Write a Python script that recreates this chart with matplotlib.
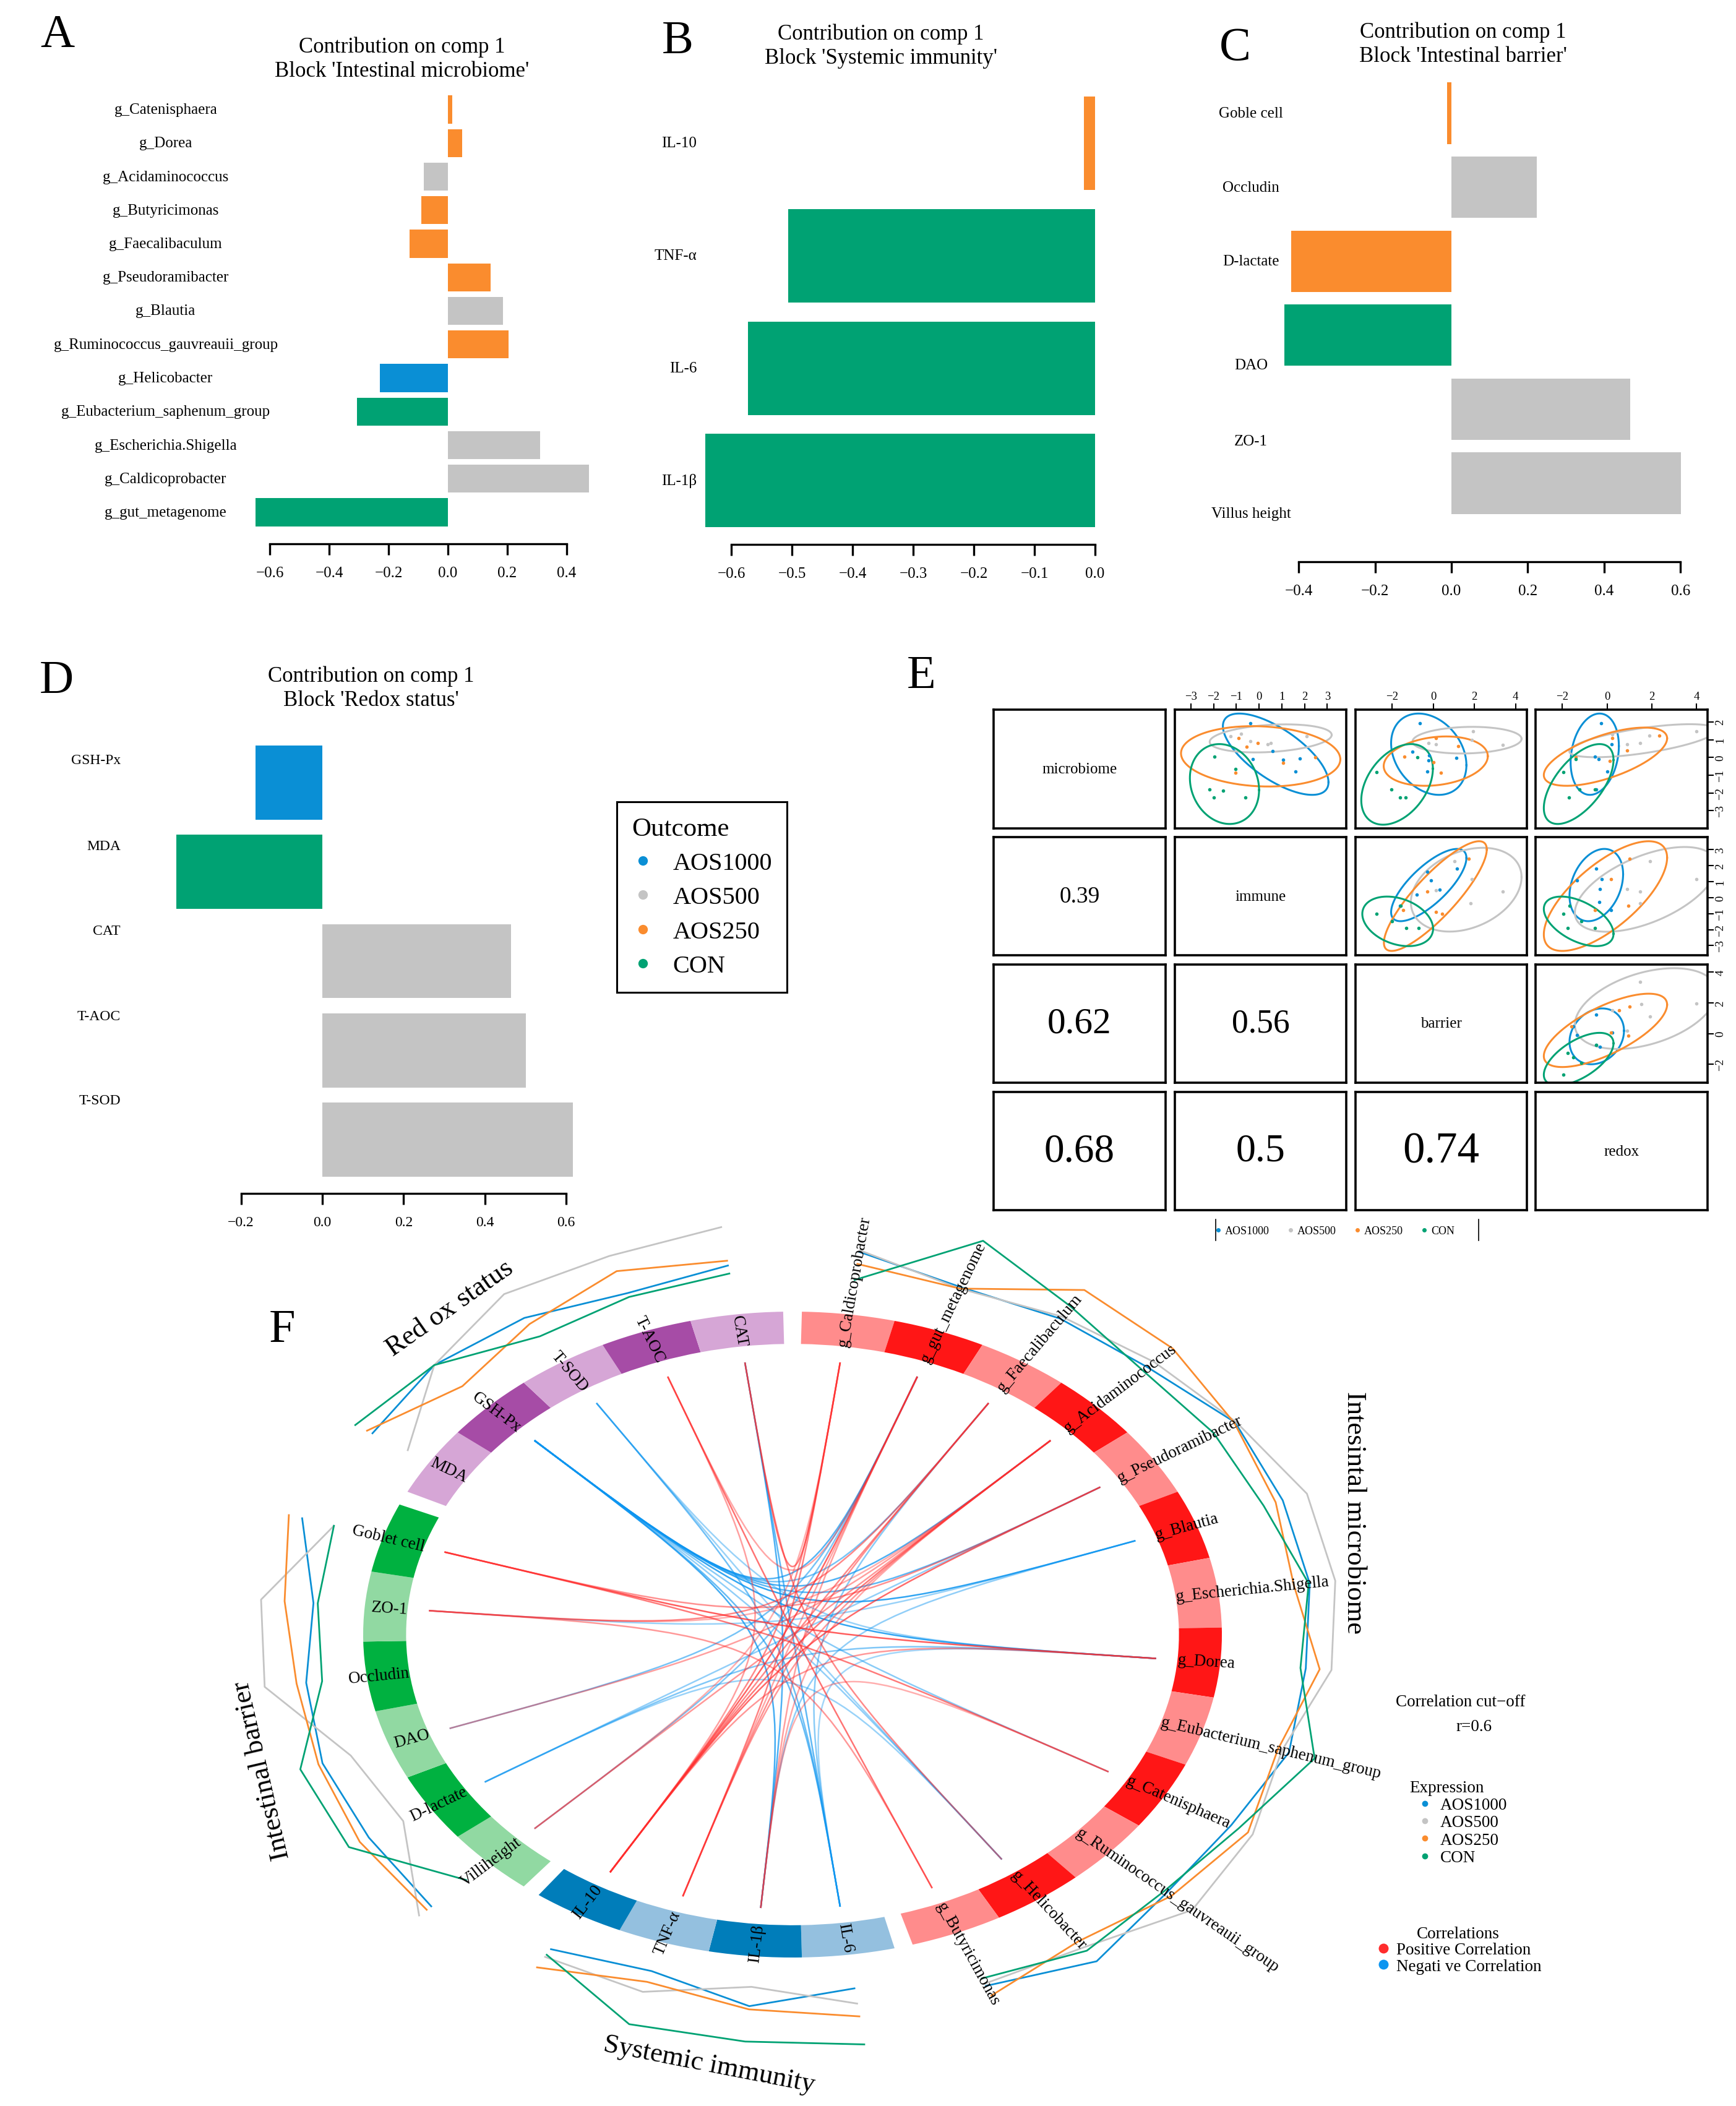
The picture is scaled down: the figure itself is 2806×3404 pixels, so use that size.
#!/usr/bin/env python3

import matplotlib

matplotlib.use("Agg")
import matplotlib.pyplot as plt
import matplotlib.transforms as mtransforms
import numpy as np
from matplotlib.lines import Line2D
from matplotlib.patches import PathPatch, Wedge
from matplotlib.path import Path

W, H = 2806, 3405
plt.rcParams["font.family"] = ["Liberation Serif", "DejaVu Serif"]

GROUPS = ["AOS1000", "AOS500", "AOS250", "CON"]
COLORS = {"AOS1000": "#0A8FD5", "AOS500": "#C4C4C4", "AOS250": "#FA8C2E", "CON": "#00A273"}

# ---- A-D: loadings on component 1, sorted by absolute value ----
a_names = ["g_Catenisphaera", "g_Dorea", "g_Acidaminococcus", "g_Butyricimonas",
           "g_Faecalibaculum", "g_Pseudoramibacter", "g_Blautia",
           "g_Ruminococcus_gauvreauii_group", "g_Helicobacter",
           "g_Eubacterium_saphenum_group", "g_Escherichia.Shigella",
           "g_Caldicoprobacter", "g_gut_metagenome"]
a_load = [0.014, 0.047, -0.082, -0.090, -0.129, 0.144, 0.185, 0.205, -0.229,
          -0.306, 0.310, 0.475, -0.648]
a_contrib = ["AOS250", "AOS250", "AOS500", "AOS250", "AOS250", "AOS250", "AOS500",
             "AOS250", "AOS1000", "CON", "AOS500", "AOS500", "CON"]

b_names = ["IL-10", "TNF-α", "IL-6", "IL-1β"]
b_load = [-0.018, -0.506, -0.572, -0.643]
b_contrib = ["AOS250", "CON", "CON", "CON"]

c_names = ["Goble cell", "Occludin", "D-lactate", "DAO", "ZO-1", "Villus height"]
c_load = [-0.012, 0.223, -0.419, -0.438, 0.468, 0.601]
c_contrib = ["AOS250", "AOS500", "AOS250", "CON", "AOS500", "AOS500"]

d_names = ["GSH-Px", "MDA", "CAT", "T-AOC", "T-SOD"]
d_load = [-0.164, -0.359, 0.464, 0.501, 0.616]
d_contrib = ["AOS1000", "CON", "AOS500", "AOS500", "AOS500"]

# ---- E: block component scores (x = column block, y = row block) ----
e_blocks = ["microbiome", "immune", "barrier", "redox"]
e_cor = {(1, 0): 0.39, (2, 0): 0.62, (2, 1): 0.56, (3, 0): 0.68, (3, 1): 0.5, (3, 2): 0.74}

mb_im = {
    "AOS1000": ([-0.39, -0.28, 1.07, 1.80, 1.59, 0.59], [1.93, -0.11, -0.13, -0.06, -0.79, 0.36]),
    "AOS500": ([-0.78, -0.39, 0.37, 0.50, 2.10, -1.26], [1.33, 0.90, 0.75, 0.82, 1.18, 1.18]),
    "AOS250": ([-0.89, -0.54, -1.04, 1.07, 2.46, -0.07], [1.07, 0.60, -0.86, -0.32, 0.00, 0.82]),
    "CON": ([-1.96, -2.17, -1.59, -1.98, -0.59, -1.04], [0.04, -1.80, -1.87, -2.27, -2.27, -0.64]),
}
mb_im_ell = {"AOS1000": (0.73, 0.18, 2.32, 2.29, -0.69), "AOS500": (0.51, 1.07, 2.68, 0.79, 0.25),
             "AOS250": (0.07, 0.06, 3.50, 1.70, -0.10), "CON": (-1.52, -1.50, 1.52, 2.25, -0.15)}

mb_ba = {
    "AOS1000": ([-0.65, -1.01, -0.24, 1.11, -0.29, -0.20], [1.93, 0.32, -0.17, -0.04, -0.79, 0.10]),
    "AOS500": ([-0.24, 1.88, 3.37, 0.12, 1.93], [0.82, 0.97, 0.69, 0.75, 1.46]),
    "AOS250": ([0.12, -1.40, 0.00, 0.36, 1.20], [1.07, 0.04, -0.26, -0.86, 0.64]),
    "CON": ([-2.75, -2.05, -1.61, -1.33, -0.77], [-0.82, -1.82, -2.25, -2.25, 0.00]),
}
mb_ba_ell = {"AOS1000": (-0.22, 0.18, 1.83, 2.29, -0.27), "AOS500": (1.64, 0.97, 2.65, 0.75, 0.10),
             "AOS250": (0.12, -0.21, 2.53, 1.39, 0.20), "CON": (-1.76, -1.52, 1.74, 2.27, 0.39)}

mb_re = {
    "AOS1000": ([-0.26, -0.55, -0.38, 0.00, 0.20, -0.48], [1.93, 0.04, -0.11, -0.79, 0.75, -1.82]),
    "AOS500": ([0.24, 0.89, 1.49, 4.00, 1.89], [1.29, 0.75, 0.82, 1.46, 1.24]),
    "AOS250": ([0.24, 0.12, 0.89, 2.33, -1.39], [1.07, -0.21, 0.39, 1.24, 0.00]),
    "CON": ([-1.94, -1.70, -1.22, -0.55, -1.39], [-0.82, -2.25, -1.82, -1.82, -0.10]),
}
mb_re_ell = {"AOS1000": (-0.55, 0.18, 1.08, 2.29, 0.20), "AOS500": (1.60, 0.94, 3.29, 0.93, 0.64),
             "AOS250": (-0.07, 0.04, 2.76, 1.64, 0.63), "CON": (-1.27, -1.50, 1.56, 2.25, 0.60)}

im_ba = {
    "AOS1000": ([-0.29, 1.16, -0.12, -1.61, 0.30, -0.80], [1.62, 1.81, 1.10, -0.52, 0.50, 0.20]),
    "AOS500": ([1.04, 1.88, 3.37, 0.12, 1.81], [2.29, 1.14, 0.38, 0.48, -0.36]),
    "AOS250": ([1.73, 0.43, 0.12, -1.45, -0.30], [2.45, -1.00, -0.88, -0.76, 0.40]),
    "CON": ([-2.75, -2.02, -1.30, -0.72, -1.57], [-1.00, -1.48, -1.90, -1.90, -0.52]),
}
im_ba_ell = {"AOS1000": (-0.22, 0.79, 1.83, 2.26, 0.75), "AOS500": (1.60, 0.50, 2.69, 2.62, 0.30),
             "AOS250": (0.10, 0.10, 2.50, 3.43, 0.85), "CON": (-1.73, -1.48, 1.72, 1.55, -0.30)}

im_re = {
    "AOS1000": ([-0.48, -1.34, -0.31, -0.36, 0.17, -0.24], [1.81, 1.10, 0.55, -0.29, -0.76, 1.14]),
    "AOS500": ([1.92, 0.89, 1.49, 4.00, 1.49], [2.29, 0.55, 0.38, 1.14, -0.36]),
    "AOS250": ([1.00, 0.17, 0.96, -0.55], [2.45, 1.14, -0.52, -0.76]),
    "CON": ([-1.68, -1.94, -1.75, -0.55, -1.15], [-0.52, -1.00, -1.90, -1.90, -1.48]),
}
im_re_ell = {"AOS1000": (-0.48, 0.79, 1.20, 2.26, 0.30), "AOS500": (1.73, 0.52, 3.17, 2.65, 0.55),
             "AOS250": (-0.07, 0.10, 2.76, 3.43, 0.70), "CON": (-1.27, -1.48, 1.56, 1.55, -0.50)}

ba_re = {
    "AOS1000": ([-0.48, -1.51, -0.48, -0.31, 0.24, -1.34], [1.24, 0.45, -0.74, -0.87, 0.05, -0.08]),
    "AOS500": ([1.49, 1.92, 4.00, 0.89, 0.24, 1.53], [3.39, 1.10, 1.97, 0.18, 1.50, 1.90]),
    "AOS250": ([1.00, 0.53, 0.17, 0.96, -1.58], [1.76, 1.50, 0.05, -0.13, 0.45]),
    "CON": ([-1.94, -1.75, -1.15, -0.48, -1.51], [-2.66, -1.26, -1.92, -0.74, -1.53]),
}
ba_re_ell = {"AOS1000": (-0.46, -0.18, 1.22, 1.82, 0.20), "AOS500": (1.73, 1.63, 3.17, 2.63, 0.40),
             "AOS250": (-0.07, 0.21, 2.76, 2.39, 0.70), "CON": (-1.27, -1.66, 1.56, 1.71, 0.60)}

e_scores = {(0, 1): (mb_im, mb_im_ell), (0, 2): (mb_ba, mb_ba_ell), (0, 3): (mb_re, mb_re_ell),
            (1, 2): (im_ba, im_ba_ell), (1, 3): (im_re, im_re_ell), (2, 3): (ba_re, ba_re_ell)}

# ---- F: circos plot ----
circ_mb = ["g_Caldicoprobacter", "g_gut_metagenome", "g_Faecalibaculum", "g_Acidaminococcus",
           "g_Pseudoramibacter", "g_Blautia", "g_Escherichia.Shigella", "g_Dorea",
           "g_Eubacterium_saphenum_group", "g_Catenisphaera", "g_Ruminococcus_gauvreauii_group",
           "g_Helicobacter", "g_Butyricimonas"]
circ_im = ["IL-6", "IL-1β", "TNF-α", "IL-10"]
circ_ba = ["Villiheight", "D-lactate", "DAO", "Occludin", "ZO-1", "Goblet cell"]
circ_re = ["MDA", "GSH-Px", "T-SOD", "T-AOC", "CAT"]
circ_titles = ["Intesintal microbiome", "Systemic immunity", "Intestinal barrier", "Red ox status"]

# scaled group means drawn outside the ring (0 = lowest, 1 = highest)
expr_mb = {
    "AOS1000": [0.58, 0.38, 0.44, 0.48, 0.69, 0.66, 0.66, 0.60, 0.65, 0.52, 0.53, 0.74, 0.51],
    "AOS500": [0.60, 0.36, 0.47, 0.57, 0.70, 0.90, 0.90, 0.84, 0.58, 0.75, 0.85, 0.53, 0.48],
    "AOS250": [0.43, 0.36, 0.86, 0.81, 0.68, 0.59, 0.51, 0.73, 0.54, 0.70, 0.59, 0.44, 0.64],
    "CON": [0.23, 0.99, 0.62, 0.42, 0.45, 0.47, 0.65, 0.55, 0.90, 0.60, 0.50, 0.58, 0.41],
}
expr_im = {
    "AOS1000": [0.22, 0.42, 0.17, 0.30],
    "AOS500": [0.41, 0.18, 0.44, 0.41],
    "AOS250": [0.57, 0.46, 0.31, 0.56],
    "CON": [0.92, 0.86, 0.86, 0.38],
}
expr_ba = {
    "AOS1000": [0.56, 0.48, 0.46, 0.37, 0.28, 0.59],
    "AOS500": [0.72, 0.10, 0.18, 0.76, 0.77, 0.28],
    "AOS250": [0.62, 0.58, 0.50, 0.46, 0.55, 0.72],
    "CON": [0.10, 0.70, 0.68, 0.22, 0.24, 0.28],
}
expr_re = {
    "AOS1000": [0.44, 0.52, 0.45, 0.30, 0.41],
    "AOS500": [0.05, 0.52, 0.80, 0.79, 0.89],
    "AOS250": [0.50, 0.15, 0.36, 0.59, 0.47],
    "CON": [0.63, 0.52, 0.18, 0.25, 0.31],
}

# correlations above the cut-off (|r| > 0.6)
links = [
    ("GSH-Px", "g_Blautia", -0.78), ("GSH-Px", "g_Dorea", -0.74),
    ("GSH-Px", "g_Acidaminococcus", -0.71), ("GSH-Px", "g_Pseudoramibacter", -0.69),
    ("GSH-Px", "g_Faecalibaculum", -0.66), ("GSH-Px", "IL-1β", -0.72),
    ("GSH-Px", "IL-6", -0.68), ("GSH-Px", "g_Catenisphaera", -0.64),
    ("GSH-Px", "g_Helicobacter", -0.63), ("GSH-Px", "g_gut_metagenome", -0.70),
    ("T-SOD", "IL-6", -0.67), ("T-SOD", "g_Helicobacter", -0.62), ("T-SOD", "g_Dorea", -0.62),
    ("D-lactate", "g_Dorea", -0.65), ("D-lactate", "g_Pseudoramibacter", -0.63),
    ("DAO", "g_gut_metagenome", -0.66), ("IL-6", "g_Faecalibaculum", -0.64),
    ("IL-6", "CAT", -0.69), ("IL-1β", "CAT", -0.71), ("ZO-1", "g_Blautia", -0.62),
    ("Villiheight", "g_gut_metagenome", -0.65), ("IL-1β", "g_Blautia", -0.63),
    ("IL-6", "g_Dorea", -0.61), ("D-lactate", "g_Helicobacter", -0.62),
    ("Goblet cell", "g_Dorea", 0.72), ("Goblet cell", "g_Catenisphaera", 0.68),
    ("ZO-1", "g_Faecalibaculum", 0.66), ("Villiheight", "g_Acidaminococcus", 0.64),
    ("IL-10", "g_Pseudoramibacter", 0.70), ("IL-10", "g_Acidaminococcus", 0.68),
    ("IL-10", "T-AOC", 0.63), ("IL-10", "g_Caldicoprobacter", 0.66),
    ("IL-10", "g_gut_metagenome", 0.71), ("IL-10", "g_Faecalibaculum", 0.66),
    ("TNF-α", "g_Faecalibaculum", 0.65), ("TNF-α", "g_Acidaminococcus", 0.64),
    ("TNF-α", "g_Caldicoprobacter", 0.67), ("TNF-α", "g_gut_metagenome", 0.62),
    ("g_Butyricimonas", "T-AOC", 0.69), ("g_Butyricimonas", "ZO-1", 0.64),
    ("g_Caldicoprobacter", "Villiheight", 0.61), ("CAT", "g_Helicobacter", 0.66),
    ("DAO", "g_Acidaminococcus", 0.63), ("IL-1β", "g_Acidaminococcus", 0.62),
    ("IL-1β", "g_gut_metagenome", 0.63), ("ZO-1", "g_Acidaminococcus", 0.61),
    ("g_Pseudoramibacter", "Goblet cell", 0.65), ("g_Dorea", "IL-10", 0.64),
    ("g_Catenisphaera", "IL-1β", 0.61), ("CAT", "g_Caldicoprobacter", 0.67),
    ("T-AOC", "g_gut_metagenome", 0.62),
]

fig = plt.figure(figsize=(W / 100, H / 100), dpi=100)


def px_axes(x0, y0, x1, y1):
    return fig.add_axes([x0 / W, 1 - y1 / H, (x1 - x0) / W, (y1 - y0) / H])


def ftext(x, y, s, **kw):
    return fig.text(x / W, 1 - y / H, s, **kw)


def minus(v):
    return f"{v:.1f}".replace("-", "\u2212")


def loading_panel(names, values, contrib, x0, xscale, xlim, yfirst, ystep, yaxis, ticks,
                  label_x, label_ha, label_dy, tick_size=18, label_size=18):
    ax = px_axes(x0 + xscale * xlim[0], yfirst - 0.5 * ystep, x0 + xscale * xlim[1], yaxis)
    y = np.arange(len(names))
    ax.barh(y, values, height=0.83, color=[COLORS[g] for g in contrib], linewidth=0)
    ax.set_xlim(*xlim)
    ax.set_ylim((yaxis - yfirst) / ystep, -0.5)
    for s in ("left", "right", "top"):
        ax.spines[s].set_visible(False)
    ax.spines["bottom"].set_bounds(ticks[0], ticks[-1])
    ax.spines["bottom"].set_linewidth(2.4)
    ax.set_xticks(ticks, [minus(t) for t in ticks])
    ax.tick_params(axis="x", direction="out", length=13, width=2.4, labelsize=tick_size, pad=13)
    ax.set_yticks([])
    ax.patch.set_visible(False)
    trans = mtransforms.blended_transform_factory(fig.transFigure, ax.transData)
    for i, nm in enumerate(names):
        ax.text(label_x / W, i + label_dy[i], nm, transform=trans, ha=label_ha,
                va="center", fontsize=label_size)
    return ax


# ---------------- A-D ----------------
loading_panel(a_names, a_load, a_contrib, 724, 480, (-0.7, 0.55), 178, 54.25, 880,
              [-0.6, -0.4, -0.2, 0.0, 0.2, 0.4], 268, "center", [0] * len(a_names))
loading_panel(b_names, b_load, b_contrib, 1770, 980, (-0.655, 0.01), 232.5, 181.8, 881,
              [-0.6, -0.5, -0.4, -0.3, -0.2, -0.1, 0.0], 1126, "right", [0] * len(b_names))
loading_panel(c_names, c_load, c_contrib, 2346, 617, (-0.45, 0.62), 184, 119.6, 909,
              [-0.4, -0.2, 0.0, 0.2, 0.4, 0.6], 2022, "center", [0, 0, 0, 0.4, 0.43, 0.41])
loading_panel(d_names, d_load, d_contrib, 521, 657, (-0.4, 0.65), 1266, 144.25, 1930,
              [-0.2, 0.0, 0.2, 0.4, 0.6], 195, "right", [-0.25, -0.29, -0.34, -0.38, -0.44],
              tick_size=17, label_size=17)

title_kw = dict(ha="center", va="center", fontsize=25, linespacing=1.24)
ftext(650, 96, "Contribution on comp 1\nBlock 'Intestinal microbiome'", **title_kw)
ftext(1424, 75, "Contribution on comp 1\nBlock 'Systemic immunity'", **title_kw)
ftext(2365, 72, "Contribution on comp 1\nBlock 'Intestinal barrier'", **title_kw)
ftext(600, 1113, "Contribution on comp 1\nBlock 'Redox status'", **title_kw)

for letter, (lx, ly) in zip("ABCDEF", [(93, 58), (1095, 68), (1996, 79), (91, 1102),
                                       (1489, 1094), (456, 2151)]):
    ftext(lx, ly, letter, ha="center", va="center", fontsize=55)

handles = [Line2D([], [], ls="", marker="o", markersize=10, color=COLORS[g]) for g in GROUPS]
leg = fig.legend(handles, GROUPS, loc="upper left", bbox_to_anchor=(997 / W, 1 - 1297 / H),
                 title="Outcome", fontsize=29, title_fontsize=31, alignment="left",
                 frameon=True, fancybox=False, edgecolor="black", framealpha=1,
                 borderpad=0.6, borderaxespad=0, handlelength=0.9, handletextpad=0.75,
                 labelspacing=0.45)
leg.get_frame().set_linewidth(2.2)

# ---------------- E ----------------
cols = [(1606, 1884), (1899, 2176), (2191, 2468), (2482, 2760)]
rows = [(1148, 1340), (1354, 1545), (1560, 1751), (1766, 1957)]
col_lims = [None, (-3.7, 3.83), (-3.78, 4.55), (-3.2, 4.5)]
row_lims = [(-4.0, 2.69), (-3.6, 3.79), (-3.2, 4.5), None]
col_ticks = [None, [-3, -2, -1, 0, 1, 2, 3], [-2, 0, 2, 4], [-2, 0, 2, 4]]
row_ticks = [[-3, -2, -1, 0, 1, 2], [-3, -2, -1, 0, 1, 2, 3], [-2, 0, 2, 4], None]


def ellipse_xy(cx, cy, sx, sy, r):
    t = np.linspace(0, 2 * np.pi, 240)
    return cx + sx * np.cos(t), cy + sy * (r * np.cos(t) + np.sqrt(1 - r * r) * np.sin(t))


for i in range(4):
    for j in range(4):
        ax = px_axes(cols[j][0], rows[i][0], cols[j][1], rows[i][1])
        for s in ax.spines.values():
            s.set_linewidth(2.6)
        ax.set_xticks([])
        ax.set_yticks([])
        if i == j:
            ax.text(0.5, 0.5, e_blocks[i], transform=ax.transAxes, ha="center", va="center",
                    fontsize=18)
        elif i > j:
            r = e_cor[(i, j)]
            txt = f"{r:g}"
            ax.text(0.5, 0.5, txt, transform=ax.transAxes, ha="center", va="center",
                    fontsize=276 * r / len(txt))
        else:
            pts, ells = e_scores[(i, j)]
            for g in GROUPS:
                ax.scatter(pts[g][0], pts[g][1], s=16, color=COLORS[g], linewidths=0, zorder=3)
                ex, ey = ellipse_xy(*ells[g])
                ax.plot(ex, ey, color=COLORS[g], lw=2.2)
            ax.set_xlim(*col_lims[j])
            ax.set_ylim(*row_lims[i])
            if i == 0:
                ax.set_xticks(col_ticks[j])
                ax.tick_params(axis="x", top=True, bottom=False, labeltop=True,
                               labelbottom=False, labelsize=13.5, length=7, width=1.5, pad=2)
            if j == 3:
                ax.set_yticks(row_ticks[i])
                ax.tick_params(axis="y", right=True, left=False, labelright=True,
                               labelleft=False, labelsize=13.5, length=7, width=1.5, pad=2,
                               labelrotation=90)
                for lab in ax.get_yticklabels():
                    lab.set_va("center")

e_handles = [Line2D([], [], ls="", marker="o", markersize=4, color=COLORS[g]) for g in GROUPS]
fig.legend(e_handles, GROUPS, ncol=4, loc="center", bbox_to_anchor=(2157 / W, 1 - 1991 / H),
           frameon=False, fontsize=13, handlelength=0.6, handletextpad=0.3, columnspacing=1.6)
for lx in (1965, 2390):
    fig.add_artist(Line2D([lx / W, lx / W], [1 - 1972 / H, 1 - 2006 / H], color="black", lw=1.2))

# ---------------- F ----------------
CX, CY, RX, RY = 1281, 2643, 694, 522
ax_f = px_axes(CX - 1.5 * RX, CY - 1.5 * RY, CX + 1.5 * RX, H)
ax_f.set_xlim(-1.5, 1.5)
ax_f.set_ylim((CY - H) / RY, 1.5)
ax_f.axis("off")

SEG, GAP = 12.5, 2.5
circ_blocks = [circ_mb, circ_im, circ_ba, circ_re]
circ_expr = [expr_mb, expr_im, expr_ba, expr_re]
ring_colors = [("#FF8C8C", "#FF1616"), ("#94C0DF", "#007DBA"),
               ("#91D9A2", "#00B140"), ("#D6A6D6", "#A64CA6")]
theta = {}
a = 90 - GAP / 2
for b, names in enumerate(circ_blocks):
    for k, nm in enumerate(names):
        theta[nm] = a - SEG / 2
        ax_f.add_patch(Wedge((0, 0), 1.0, a - SEG, a, width=0.1, color=ring_colors[b][k % 2],
                             linewidth=0, zorder=2))
        a -= SEG
    a -= GAP

# links
for v1, v2, r in links:
    t1, t2 = np.radians(theta[v1]), np.radians(theta[v2])
    p0 = (0.85 * np.cos(t1), 0.85 * np.sin(t1))
    p3 = (0.85 * np.cos(t2), 0.85 * np.sin(t2))
    path = Path([p0, (0, 0), (0, 0), p3], [Path.MOVETO, Path.CURVE4, Path.CURVE4, Path.CURVE4])
    color = "#FF2D2D" if r > 0 else "#0D95F0"
    alpha = min(0.85, 0.35 + (abs(r) - 0.6) * 3.5)
    ax_f.add_patch(PathPatch(path, facecolor="none", edgecolor=color, lw=1.8, alpha=alpha,
                             zorder=1))

# group means outside the ring
for names, expr in zip(circ_blocks, circ_expr):
    th = np.radians([theta[nm] for nm in names])
    for g in GROUPS:
        rr = 1.05 + 0.25 * np.array(expr[g])
        ax_f.plot(rr * np.cos(th), rr * np.sin(th), color=COLORS[g], lw=2.0, zorder=3)

# variable labels
for nm, th in theta.items():
    t = np.radians(th)
    rot = np.degrees(np.arctan2(RY * np.sin(t), RX * np.cos(t)))
    ha = "left"
    if np.cos(t) < 0:
        rot += 180
        ha = "right"
    ax_f.text(0.9 * np.cos(t), 0.9 * np.sin(t), nm, rotation=rot, rotation_mode="anchor",
              ha=ha, va="center", fontsize=19.5, zorder=4)

# block titles
for title, ang, rad, rot in zip(circ_titles, [16.2, -98.3, -161.3, 128.3],
                                [1.362, 1.344, 1.305, 1.288], [-90, -11, 103, 35]):
    t = np.radians(ang)
    ax_f.text(rad * np.cos(t), rad * np.sin(t), title, rotation=rot, rotation_mode="anchor",
              ha="center", va="center", fontsize=32)

ftext(2361, 2752, "Correlation cut\u2212off", ha="center", va="center", fontsize=19.5)
ftext(2383, 2792, "r=0.6", ha="center", va="center", fontsize=19.5)

expr_handles = [Line2D([], [], ls="", marker="o", markersize=6, color=COLORS[g]) for g in GROUPS]
fig.legend(expr_handles, GROUPS, loc="upper left", bbox_to_anchor=(2278 / W, 1 - 2878 / H),
           frameon=False, title="Expression", title_fontsize=19.5, fontsize=19.5,
           alignment="left", borderpad=0, borderaxespad=0, handlelength=1.85,
           handletextpad=0.0, labelspacing=0.12)

corr_handles = [Line2D([], [], ls="", marker="o", markersize=13, color="#FF2D2D",
                       markeredgecolor="white", markeredgewidth=1.5),
                Line2D([], [], ls="", marker="o", markersize=13, color="#0D95F0",
                       markeredgecolor="white", markeredgewidth=1.5)]
fig.legend(corr_handles, ["Positive Correlation", "Negati ve Correlation"], loc="upper left",
           bbox_to_anchor=(2222 / W, 1 - 3114 / H), frameon=False, title="Correlations",
           title_fontsize=19.5, fontsize=19.5, alignment="center", borderpad=0,
           borderaxespad=0, handlelength=1.0, handletextpad=0.3, labelspacing=0.05)

fig.savefig("out.png", dpi=100)
